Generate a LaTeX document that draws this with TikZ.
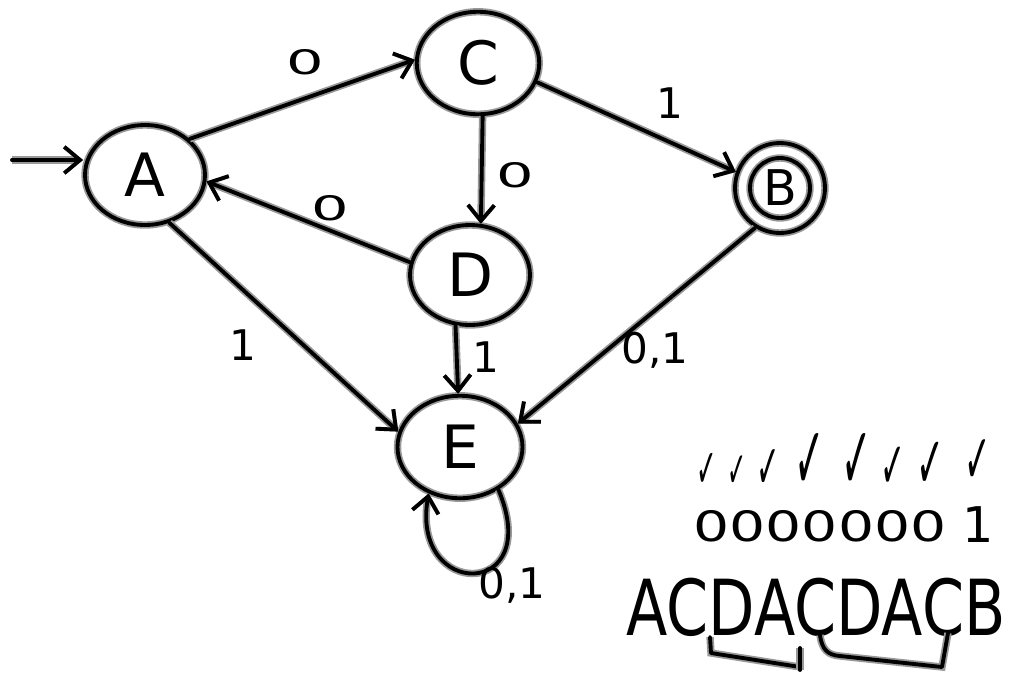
\documentclass[tikz,border=0pt]{standalone}
\usepackage{fontspec}
\setmainfont{DejaVu Sans}
\usetikzlibrary{shapes.geometric,arrows.meta}
\begin{document}
\begin{tikzpicture}[x=0.02cm,y=-0.02cm,
  ink/.style={draw=black,line width=2.2pt,line cap=round,line join=round,
              preaction={draw=black!40,line width=4.2pt}},
  st/.style={ellipse,ink,inner sep=0pt,font=\fontsize{34}{36}\selectfont},
  arr/.style={ink,-{Straight Barb[length=9pt,width=15pt,line width=2.2pt]}},
  lab/.style={font=\fontsize{24}{26}\selectfont,inner sep=0pt},
  chk/.style={anchor=south,inner sep=0pt}]
\useasboundingbox (0,0) rectangle (1018,677);
% states
\node[st,minimum width=2.4cm,minimum height=2.0cm] (A) at (145,175) {A};
\node[st,minimum width=2.45cm,minimum height=2.05cm] (C) at (478,63) {C};
\node[st,minimum width=2.4cm,minimum height=2.0cm] (D) at (470,275) {D};
\node[st,minimum width=2.5cm,minimum height=2.05cm] (E) at (460,447) {E};
\node[circle,ink,minimum size=1.8cm,inner sep=0pt] (B) at (780,188) {};
\node[circle,ink,minimum size=1.2cm,inner sep=0pt,font=\fontsize{28}{30}\selectfont] (Bi) at (B) {B};
% start arrow
\coordinate (s) at (12,160);
\draw[arr] (s) -- (s -| A.west);
% transitions
\draw[arr] (A.39) -- (C.177);
\draw[arr] (C.342) -- (B.160);
\draw[arr] (C.275) -- (D.78);
\draw[arr] (D.168) -- (A.354);
\draw[arr] (A.297) -- (E.166);
\draw[arr] (D.254) -- (E.92);
\draw[arr] (B.238) -- (E.22);
\draw[arr] (E.312) .. controls (545,600) and (410,600) .. (E.236);
% labels
\node[lab] (l1) at (305,62) {\scalebox{1.4}[0.8]{0}};
\node[lab] (l2) at (670,103) {1};
\node[lab] (l3) at (515,175) {\scalebox{1.4}[0.8]{0}};
\node[lab] (l4) at (330,208) {\scalebox{1.4}[0.8]{0}};
\node[lab] (l5) at (243,345) {1};
\node[lab] (l6) at (486,357) {1};
\node[lab] (l7) at (655,350) {0,1};
\node[lab] (l8) at (512,585) {0,1};
% input word and checks
\node[chk,font=\fontsize{28}{30}\selectfont] (c1) at (707,488) {\scalebox{0.5}[1.1]{✓}};
\node[chk,font=\fontsize{26}{28}\selectfont] (c2) at (737,488) {\scalebox{0.5}[1.1]{✓}};
\node[chk,font=\fontsize{32}{34}\selectfont] (c3) at (768,489) {\scalebox{0.5}[1.1]{✓}};
\node[chk,font=\fontsize{46}{48}\selectfont] (c4) at (810,490) {\scalebox{0.45}[1.1]{✓}};
\node[chk,font=\fontsize{46}{48}\selectfont] (c5) at (857,490) {\scalebox{0.45}[1.1]{✓}};
\node[chk,font=\fontsize{34}{36}\selectfont] (c6) at (893,489) {\scalebox{0.5}[1.1]{✓}};
\node[chk,font=\fontsize{38}{40}\selectfont] (c7) at (930,489) {\scalebox{0.5}[1.1]{✓}};
\node[chk,font=\fontsize{36}{38}\selectfont] (c8) at (978,484) {\scalebox{0.5}[1.1]{✓}};
\node[inner sep=0pt,font=\fontsize{34}{36}\selectfont] (zeros) at (820,526) {\scalebox{0.95}[0.7]{0000000}};
\node[inner sep=0pt,font=\fontsize{28}{30}\selectfont] (one) at (978,525) {1};
\node[inner sep=0pt,font=\fontsize{44}{46}\selectfont] (word) at (816,607) {\scalebox{0.78}[1]{ACDACDACB}};
% brackets
\draw[ink] (710,637) -- (711,653) -- (800,667);
\draw[ink] (800,648) -- (800,670);
\draw[ink] (820,635) .. controls (822,650) and (828,655) .. (840,656) -- (942,667) -- (948,633);
\end{tikzpicture}
\end{document}
